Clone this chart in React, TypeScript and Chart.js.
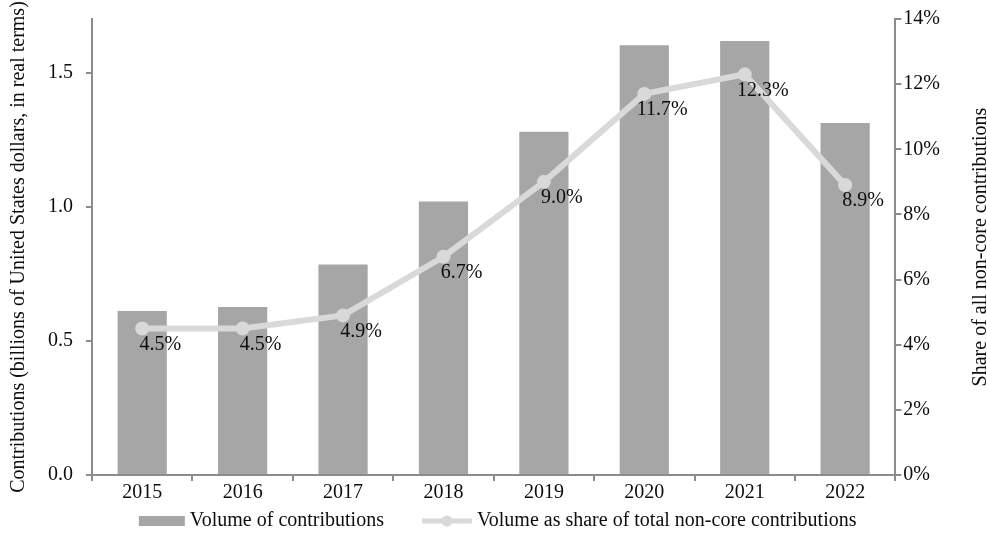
import React, { useEffect, useRef } from "react";
import { Chart, registerables } from "chart.js";

Chart.register(...registerables);

const years = ["2015", "2016", "2017", "2018", "2019", "2020", "2021", "2022"];
const volume = [0.611, 0.626, 0.785, 1.02, 1.28, 1.602, 1.618, 1.312];
const sharePct = [4.5, 4.5, 4.9, 6.7, 9.0, 11.7, 12.3, 8.9];
const leftTicks = [0, 0.5, 1.0, 1.5];
const barLabel = "Volume of contributions";
const lineLabel = "Volume as share of total non-core contributions";
const leftTitle = "Contributions (billions of United States dollars, in real terms)";
const rightTitle = "Share of all non-core contributions";

const BAR_COLOR = "#a6a6a6";
const LINE_COLOR = "#d9d9d9";
const AXIS_COLOR = "#8c8c8c";
const TEXT_COLOR = "#0d0d0d";
const FONT = "'Liberation Serif', 'Times New Roman', serif";
const FS = 20;

const overlayPlugin = {
  id: "overlay",
  afterDatasetsDraw(chart: any) {
    const meta = chart.getDatasetMeta(1);
    const ctx = chart.ctx;
    ctx.save();
    ctx.font = `${FS}px ${FONT}`;
    ctx.fillStyle = TEXT_COLOR;
    ctx.textAlign = "center";
    ctx.textBaseline = "middle";
    meta.data.forEach((pt: any, i: number) => {
      ctx.fillText(sharePct[i].toFixed(1) + "%", pt.x + 18, pt.y + 16);
    });
    ctx.restore();
  },
  afterDraw(chart: any) {
    const ctx = chart.ctx;
    const area = chart.chartArea;
    ctx.save();
    ctx.font = `${FS}px ${FONT}`;
    ctx.fillStyle = TEXT_COLOR;

    // right axis title, reading bottom-to-top
    ctx.save();
    ctx.translate(chart.width - 6, (area.top + area.bottom) / 2);
    ctx.rotate(-Math.PI / 2);
    ctx.textAlign = "center";
    ctx.textBaseline = "middle";
    ctx.fillText(rightTitle, 0, 0);
    ctx.restore();

    // legend
    const w1 = ctx.measureText(barLabel).width;
    const w2 = ctx.measureText(lineLabel).width;
    const gap = 5;
    const total = 46 + gap + w1 + 38 + 50 + gap + w2;
    let x = (area.left + area.right) / 2 + 4 - total / 2;
    const y = chart.height - 14;
    ctx.textBaseline = "middle";
    ctx.textAlign = "left";
    ctx.fillStyle = BAR_COLOR;
    ctx.fillRect(x, y - 5, 46, 10);
    x += 46 + gap;
    ctx.fillStyle = TEXT_COLOR;
    ctx.fillText(barLabel, x, y);
    x += w1 + 38;
    ctx.strokeStyle = LINE_COLOR;
    ctx.lineWidth = 5;
    ctx.beginPath();
    ctx.moveTo(x, y);
    ctx.lineTo(x + 50, y);
    ctx.stroke();
    ctx.fillStyle = LINE_COLOR;
    ctx.beginPath();
    ctx.arc(x + 25, y, 5.5, 0, Math.PI * 2);
    ctx.fill();
    x += 50 + gap;
    ctx.fillStyle = TEXT_COLOR;
    ctx.fillText(lineLabel, x, y);
    ctx.restore();
  },
};

export default function App() {
  const ref = useRef<HTMLCanvasElement | null>(null);

  useEffect(() => {
    if (!ref.current) return;
    const chart = new Chart(ref.current, {
      type: "bar",
      data: {
        labels: years,
        datasets: [
          {
            type: "bar",
            label: barLabel,
            data: volume,
            backgroundColor: BAR_COLOR,
            borderWidth: 0,
            yAxisID: "y",
            order: 2,
            barPercentage: 0.49,
            categoryPercentage: 1,
          },
          {
            type: "line",
            label: lineLabel,
            data: sharePct,
            borderColor: LINE_COLOR,
            backgroundColor: LINE_COLOR,
            borderWidth: 6,
            pointRadius: 7,
            pointBackgroundColor: LINE_COLOR,
            pointBorderWidth: 0,
            yAxisID: "y1",
            order: 1,
            tension: 0,
          } as any,
        ],
      },
      options: {
        animation: false,
        responsive: true,
        maintainAspectRatio: false,
        layout: { padding: { top: 0, right: 45, left: 0, bottom: 30 } },
        plugins: {
          tooltip: { enabled: false },
          legend: { display: false },
        },
        scales: {
          x: {
            offset: true,
            grid: {
              offset: true,
              drawOnChartArea: false,
              drawTicks: true,
              tickLength: 6,
              color: AXIS_COLOR,
              lineWidth: 2,
            },
            border: { color: AXIS_COLOR, width: 2 },
            ticks: {
              font: { family: FONT, size: FS },
              color: TEXT_COLOR,
              padding: 0,
            },
          },
          y: {
            position: "left",
            min: 0,
            max: 1.7,
            afterBuildTicks: (scale: any) => {
              scale.ticks = leftTicks.map((v) => ({ value: v }));
            },
            grid: {
              drawOnChartArea: false,
              tickLength: 6,
              color: AXIS_COLOR,
              lineWidth: 2,
            },
            border: { color: AXIS_COLOR, width: 2 },
            ticks: {
              font: { family: FONT, size: FS, lineHeight: 0.6 },
              color: TEXT_COLOR,
              padding: 13,
              callback: (v: any) => Number(v).toFixed(1),
            },
            title: {
              display: true,
              text: leftTitle,
              font: { family: FONT, size: FS },
              color: TEXT_COLOR,
              padding: { top: 7, bottom: 4 },
            },
          },
          y1: {
            position: "right",
            min: 0,
            max: 14,
            grid: {
              drawOnChartArea: false,
              tickLength: 6,
              color: AXIS_COLOR,
              lineWidth: 2,
            },
            border: { color: AXIS_COLOR, width: 2 },
            ticks: {
              stepSize: 2,
              font: { family: FONT, size: FS, lineHeight: 0.6 },
              color: TEXT_COLOR,
              padding: 2,
              callback: (v: any) => `${v}%`,
            },
          },
        },
      },
      plugins: [overlayPlugin],
    } as any);
    return () => chart.destroy();
  }, []);

  return (
    <div style={{ position: "fixed", left: 0, top: 0, width: 987, height: 535, background: "#fff" }}>
      <canvas ref={ref} />
    </div>
  );
}
